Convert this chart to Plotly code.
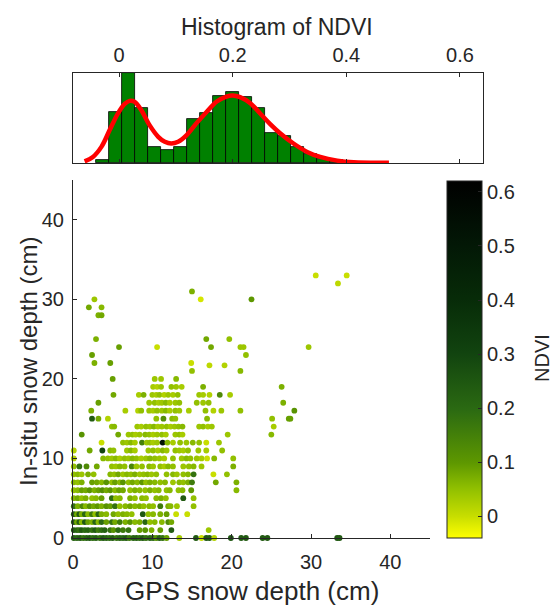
import plotly.graph_objects as go

# ---------------- Histogram of NDVI ----------------
ndvi_bin_centers = [-0.0286, -0.0057, 0.0172, 0.0401, 0.0630, 0.0858, 0.1087, 0.1316,
                    0.1545, 0.1774, 0.2003, 0.2231, 0.2460, 0.2689, 0.2918, 0.3147,
                    0.3375, 0.3604, 0.3833, 0.4062, 0.4291, 0.4520]
ndvi_counts = [2, 38, 67, 41, 12, 10, 12, 32.5, 37, 50, 53, 49, 41, 22.5, 20, 12,
               7, 3, 2, 1, 0.6, 0.4]
bin_width = 0.0229

# fitted density curve (in count units)
kde_x = [-0.0606, -0.046, -0.031, -0.0165, -0.0018, 0.010, 0.0188, 0.0276, 0.039, 0.054,
         0.069, 0.0806, 0.092, 0.104, 0.119, 0.136, 0.154, 0.172, 0.189, 0.200, 0.213,
         0.231, 0.248, 0.266, 0.284, 0.307, 0.331, 0.354, 0.384, 0.413, 0.475]
kde_y = [1.25, 4.5, 12, 24.5, 37, 44, 46.25, 45.5, 39.5, 28, 19.5, 15.75, 14.5, 15.75,
         20.75, 29.5, 38, 45.75, 49.5, 50.25, 49, 44.5, 37, 29, 22, 14.5, 8.25, 4.5,
         1.75, 0.5, 0.2]

# ---------------- Scatter: GPS vs in-situ snow depth ----------------
insitu_levels = [33, 32, 31, 30, 29, 28, 25, 24, 23, 22, 21.7, 21, 20, 19, 18, 17, 16,
                 15, 14, 13, 12, 11, 10, 9, 8, 7, 6, 5, 4, 3, 2, 1, 0]

gps_by_row = [
    [30.6, 34.5],
    [33.4],
    [15.0],
    [2.7, 16.1, 22.5],
    [2.0, 3.6],
    [3.2, 3.6],
    [2.9, 16.8, 19.7],
    [5.8, 10.6, 17.4, 21.1, 21.5, 29.7],
    [2.4, 21.8],
    [2.7, 4.7, 14.9],
    [17.2, 19.1],
    [15.0, 21.1],
    [5.0, 10.3, 11.1, 13.0],
    [10.1, 10.6, 11.1, 12.4, 13.0, 13.7, 16.4, 26.3],
    [5.1, 8.3, 8.9, 10.0, 10.5, 10.9, 11.5, 12.0, 12.6, 13.2, 15.9, 16.4, 17.2, 18.5, 19.8],
    [3.2, 9.6, 10.3, 10.8, 11.2, 11.7, 12.2, 12.9, 13.4, 15.6, 16.4, 17.1, 26.5],
    [2.3, 6.6, 8.2, 8.6, 9.6, 10.1, 10.6, 11.2, 11.7, 12.2, 12.9, 13.4, 14.6, 16.7, 17.7,
     18.7, 21.1, 27.9],
    [2.4, 3.2, 4.4, 10.5, 11.4, 12.5, 12.9, 16.9, 25.1, 27.2, 27.4],
    [4.9, 5.2, 8.1, 8.6, 9.2, 9.7, 10.2, 10.7, 11.2, 11.8, 12.3, 12.8, 13.3, 13.8, 15.9,
     16.4, 17.0, 17.5, 25.3],
    [1.1, 5.7, 7.0, 7.5, 7.9, 8.4, 9.1, 9.6, 10.1, 10.6, 11.2, 11.7, 12.9, 13.4, 13.8,
     19.5, 25.0],
    [3.6, 6.3, 6.8, 7.3, 7.8, 8.7, 9.3, 9.7, 10.1, 10.6, 11.3, 11.9, 12.6, 13.5, 14.3,
     15.1, 15.9, 16.8, 18.4],
    [0.1, 2.1, 3.7, 4.7, 5.1, 6.8, 7.3, 7.8, 9.5, 10.1, 10.7, 11.3, 11.8, 12.9, 13.4,
     13.9, 14.5, 15.8, 16.8, 18.8],
    [0.1, 3.8, 4.4, 4.9, 5.4, 5.9, 6.5, 7.0, 7.5, 8.0, 8.6, 9.2, 9.7, 10.3, 10.9, 11.5,
     12.6, 13.7, 14.3, 14.8, 15.6, 16.2, 16.9, 17.8, 20.2],
    [0.1, 0.8, 1.7, 3.0, 4.9, 5.4, 5.9, 6.5, 7.4, 8.0, 8.7, 9.6, 10.1, 11.0, 11.5, 12.0,
     12.6, 13.9, 14.6, 15.2, 16.2, 20.2],
    [0.1, 0.6, 1.1, 1.9, 2.6, 4.7, 5.2, 5.7, 6.3, 6.8, 7.3, 7.8, 8.4, 8.9, 9.4, 9.9, 10.5,
     11.8, 12.6, 13.1, 13.9, 14.5, 15.2, 17.7, 19.4],
    [0.1, 0.6, 1.1, 2.4, 3.0, 3.6, 4.2, 4.9, 5.3, 5.9, 6.3, 7.0, 7.5, 8.1, 8.7, 9.2, 9.7,
     10.3, 11.0, 11.6, 12.6, 13.4, 13.9, 14.5, 15.0, 18.0, 20.6],
    [0.1, 0.6, 1.1, 1.6, 2.1, 2.7, 3.2, 3.7, 4.2, 4.7, 5.3, 5.8, 6.3, 7.2, 7.8, 8.4, 9.1,
     9.7, 10.3, 10.8, 11.8, 12.2, 13.3, 13.8, 14.9, 20.6],
    [0.1, 0.6, 1.1, 1.6, 2.4, 2.9, 3.6, 4.9, 5.4, 5.9, 7.2, 7.8, 8.7, 9.2, 10.5, 11.1,
     11.7, 13.9, 15.2],
    [0.1, 0.6, 1.2, 1.6, 2.1, 2.6, 3.1, 3.6, 4.2, 4.7, 5.3, 5.9, 6.6, 7.2, 7.8, 8.4, 8.9,
     9.6, 10.1, 11.0, 12.0, 12.3, 13.1, 15.2],
    [0.1, 0.5, 0.8, 1.1, 1.5, 1.9, 2.4, 2.8, 3.2, 3.6, 4.2, 5.1, 5.7, 6.3, 6.8, 7.4, 8.8,
     9.5, 10.1, 11.0, 11.8, 13.0, 14.4],
    [0.1, 0.5, 0.8, 1.1, 1.5, 1.9, 2.4, 2.8, 3.2, 3.6, 4.2, 4.9, 5.3, 5.9, 6.6, 7.2, 7.8,
     8.4, 9.1, 9.7, 10.3, 11.2, 12.0, 12.4],
    [0.1, 0.5, 0.8, 1.1, 1.5, 1.9, 2.4, 2.8, 3.2, 3.6, 4.0, 4.7, 5.1, 5.7, 6.3, 7.0, 8.4,
     9.1, 9.9, 11.0, 12.4, 17.1],
    [0.1, 0.5, 0.9, 1.3, 1.7, 2.1, 2.5, 2.9, 3.4, 3.8, 4.2, 4.6, 5.0, 5.5, 5.9, 6.3, 6.7,
     7.1, 7.6, 8.0, 8.4, 8.8, 9.2, 9.7, 10.1, 10.5, 10.9, 11.3, 11.8, 13.4, 15.5, 16.2,
     16.8, 17.2, 17.8, 19.9, 21.2, 21.8, 23.9, 24.5, 33.3, 33.6],
]

ndvi_by_row = [
    [0.0, 0.0],
    [0.01],
    [0.07],
    [0.04, -0.01, 0.10],
    [0.08, 0.06],
    [0.07, 0.08],
    [0.07, 0.08, 0.05],
    [0.09, 0.0, 0.08, 0.04, 0.04, 0.04],
    [0.09, 0.05],
    [0.07, 0.09, 0.0],
    [0.01, 0.02],
    [0.05, 0.06],
    [0.09, 0.04, 0.04, 0.06],
    [0.03, 0.02, 0.04, 0.05, 0.04, 0.03, 0.07, 0.07],
    [0.08, 0.03, 0.07, 0.04, 0.03, 0.05, 0.02, 0.04, 0.03, 0.05, 0.04, 0.03, 0.02, 0.13, 0.03],
    [0.09, 0.04, 0.05, 0.03, 0.04, 0.06, 0.03, 0.04, 0.05, 0.05, 0.04, 0.05, 0.07],
    [0.07, 0.03, 0.02, 0.05, 0.04, 0.03, 0.05, 0.04, 0.06, 0.03, 0.05, 0.04, 0.03, 0.05, 0.02,
     0.04, 0.05, 0.11],
    [0.24, 0.08, 0.02, 0.05, 0.12, 0.06, 0.05, 0.06, 0.05, 0.09, 0.09],
    [0.05, 0.06, 0.04, 0.03, 0.05, 0.04, 0.06, 0.03, 0.04, 0.05, 0.03, 0.04, 0.05, 0.06, 0.04,
     0.05, 0.03, 0.04, 0.03],
    [0.11, 0.08, 0.04, 0.05, 0.03, 0.04, 0.06, 0.05, 0.03, 0.04, 0.05, 0.03, 0.04, 0.05, 0.03,
     0.04, 0.06],
    [0.0, 0.05, 0.04, 0.06, 0.03, 0.15, 0.04, 0.05, 0.03, 0.04, 0.52, 0.06, 0.03, 0.05, 0.04,
     0.06, 0.05, 0.0, 0.04],
    [0.02, 0.08, 0.30, 0.06, 0.05, 0.04, 0.06, 0.03, 0.04, 0.05, 0.03, 0.06, 0.04, 0.05, 0.04,
     0.03, 0.05, 0.04, 0.03, 0.05],
    [0.02, 0.06, 0.05, 0.04, 0.06, 0.03, 0.05, 0.04, 0.06, 0.05, 0.03, 0.04, 0.06, 0.05, 0.04,
     0.03, 0.05, 0.04, 0.06, 0.05, 0.04, 0.03, 0.0, 0.06, 0.05],
    [0.05, 0.18, 0.13, 0.08, 0.05, 0.04, 0.06, 0.05, 0.14, 0.04, 0.05, 0.06, 0.04, 0.05, 0.03,
     0.06, 0.05, 0.04, 0.05, 0.06, 0.04, 0.07],
    [0.05, 0.06, 0.04, 0.07, 0.05, 0.06, 0.05, 0.08, 0.04, 0.06, 0.05, 0.07, 0.04, 0.05, 0.06,
     0.04, 0.05, 0.05, 0.06, 0.04, 0.05, 0.06, 0.18, 0.0, 0.05],
    [0.06, 0.05, 0.07, 0.09, 0.08, 0.06, 0.11, 0.05, 0.09, 0.06, 0.11, 0.05, 0.08, 0.06, 0.10,
     0.05, 0.07, 0.06, 0.05, 0.06, 0.04, 0.06, 0.05, 0.07, 0.16, 0.08, 0.07],
    [0.05, 0.06, 0.09, 0.08, 0.11, 0.07, 0.09, 0.12, 0.08, 0.10, 0.06, 0.09, 0.08, 0.05, 0.07,
     0.06, 0.05, 0.07, 0.05, 0.06, 0.05, 0.06, 0.05, 0.06, 0.10, 0.06],
    [0.06, 0.08, 0.05, 0.07, 0.05, 0.06, 0.09, 0.19, 0.05, 0.06, 0.07, 0.05, 0.06, 0.05, 0.06,
     0.07, 0.05, 0.24, 0.05],
    [0.18, 0.07, 0.13, 0.06, 0.11, 0.08, 0.10, 0.07, 0.11, 0.09, 0.18, 0.05, 0.06, 0.08, 0.06,
     0.07, 0.05, 0.06, 0.05, 0.16, 0.07, 0.06, 0.04, 0.05],
    [0.22, 0.08, 0.24, 0.07, 0.20, 0.06, 0.16, 0.05, 0.21, 0.07, 0.06, 0.08, 0.05, 0.07, 0.06,
     0.05, 0.25, 0.05, 0.06, 0.07, 0.09, 0.0, 0.0],
    [0.24, 0.08, 0.22, 0.06, 0.25, 0.09, 0.07, 0.21, 0.06, 0.20, 0.09, 0.18, 0.08, 0.16, 0.07,
     0.11, 0.06, 0.07, 0.21, 0.05, 0.06, 0.06, 0.13, 0.08],
    [0.24, 0.21, 0.18, 0.24, 0.20, 0.22, 0.18, 0.24, 0.16, 0.19, 0.22, 0.18, 0.11, 0.20, 0.16,
     0.18, 0.09, 0.11, 0.07, 0.09, 0.24, 0.04],
    [0.22, 0.20, 0.24, 0.18, 0.21, 0.24, 0.19, 0.22, 0.18, 0.24, 0.21, 0.19, 0.23, 0.18, 0.21,
     0.20, 0.24, 0.16, 0.21, 0.22, 0.19, 0.24, 0.18, 0.21, 0.20, 0.11, 0.22, 0.18, 0.09, 0.03,
     0.24, 0.0, 0.25, 0.24, 0.02, 0.25, 0.24, 0.24, 0.24, 0.24, 0.25, 0.24],
]

x_ticks = [0, 10, 20, 30, 40]
y_ticks = [0, 10, 20, 30, 40]
hist_ticks = [0, 0.2, 0.4, 0.6]
cbar_ticks = [0, 0.1, 0.2, 0.3, 0.4, 0.5, 0.6]

# flatten rows into point lists
gps_depth, insitu_depth, ndvi = [], [], []
for lvl, xs, cs in zip(insitu_levels, gps_by_row, ndvi_by_row):
    assert len(xs) == len(cs), (lvl, len(xs), len(cs))
    for xv, cv in zip(xs, cs):
        gps_depth.append(xv)
        insitu_depth.append(lvl)
        ndvi.append(cv)

W, H = 553, 605
def px(x):
    return x / W
def py(y):
    return 1 - y / H

FONT = "Liberation Sans, Arial, sans-serif"
TXT = "#262626"

cscale = [
    [0.0, "#ffff00"],
    [0.06, "#c8de00"],
    [0.14, "#8fbf00"],
    [0.21, "#5e9800"],
    [0.36, "#2b6a12"],
    [0.52, "#11430f"],
    [0.67, "#072b08"],
    [0.82, "#031806"],
    [1.0, "#000000"],
]

fig = go.Figure()

fig.add_trace(go.Bar(
    x=ndvi_bin_centers, y=ndvi_counts, width=bin_width,
    marker=dict(color="rgb(0,128,0)", line=dict(color="black", width=0.8)),
    xaxis="x2", yaxis="y2", showlegend=False,
))
fig.add_trace(go.Scatter(
    x=kde_x, y=kde_y, mode="lines", line=dict(color="red", width=4.5, shape="spline"),
    xaxis="x2", yaxis="y2", showlegend=False, cliponaxis=False,
))
fig.add_trace(go.Scatter(
    x=gps_depth, y=insitu_depth, mode="markers",
    marker=dict(size=5.8, color=ndvi, colorscale=cscale, cmin=-0.04, cmax=0.62,
                line=dict(width=0),
                colorbar=dict(
                    x=px(447), xanchor="left", xpad=0, ypad=0,
                    y=py(359.5), yanchor="middle",
                    len=357, lenmode="pixels", thickness=35, thicknessmode="pixels",
                    outlinewidth=1, outlinecolor=TXT,
                    tickvals=cbar_ticks, ticks="inside", ticklen=4, tickcolor=TXT,
                    tickfont=dict(size=20, color=TXT, family=FONT),
                )),
    xaxis="x", yaxis="y", showlegend=False, cliponaxis=False,
))

axis_common = dict(showline=True, linecolor=TXT, linewidth=1, showgrid=False,
                   zeroline=False, ticks="inside", ticklen=4, tickcolor=TXT,
                   tickfont=dict(size=20, color=TXT, family=FONT))

fig.update_layout(
    width=W, height=H, margin=dict(l=0, r=0, t=0, b=0, autoexpand=False),
    paper_bgcolor="white", plot_bgcolor="white",
    font=dict(family=FONT, color=TXT),
    bargap=0,
    xaxis=dict(domain=[px(73), px(430)], range=[0, 45], tickvals=x_ticks, anchor="y",
               ticklabelstandoff=6, **axis_common),
    yaxis=dict(domain=[py(538), py(180)], range=[0, 45], tickvals=y_ticks, anchor="x",
               ticklabelstandoff=4, **axis_common),
    xaxis2=dict(domain=[px(73), px(483)], range=[-0.081, 0.6405], tickvals=hist_ticks,
                anchor="y2", side="top", mirror="allticks", ticklabelstandoff=2,
                **axis_common),
    yaxis2=dict(domain=[py(163), py(73)], range=[0, 67], anchor="x2", showline=True,
                mirror=True, linecolor=TXT, linewidth=1, showgrid=False, zeroline=False,
                showticklabels=False, ticks=""),
    annotations=[
        dict(text="Histogram of NDVI", x=px(277), y=py(27), xref="paper", yref="paper",
             showarrow=False, xanchor="center", yanchor="middle",
             font=dict(size=23, color=TXT, family=FONT)),
        dict(text="GPS snow depth (cm)", x=px(252), y=py(591), xref="paper", yref="paper",
             showarrow=False, xanchor="center", yanchor="middle",
             font=dict(size=26, color=TXT, family=FONT)),
        dict(text="In-situ snow depth (cm)", x=px(28), y=py(362), xref="paper",
             yref="paper", showarrow=False, xanchor="center", yanchor="middle",
             textangle=-90, font=dict(size=24, color=TXT, family=FONT)),
        dict(text="NDVI", x=px(542), y=py(358), xref="paper", yref="paper",
             showarrow=False, xanchor="center", yanchor="middle", textangle=-90,
             font=dict(size=20, color=TXT, family=FONT)),
    ],
)

fig.write_html("out.html")
